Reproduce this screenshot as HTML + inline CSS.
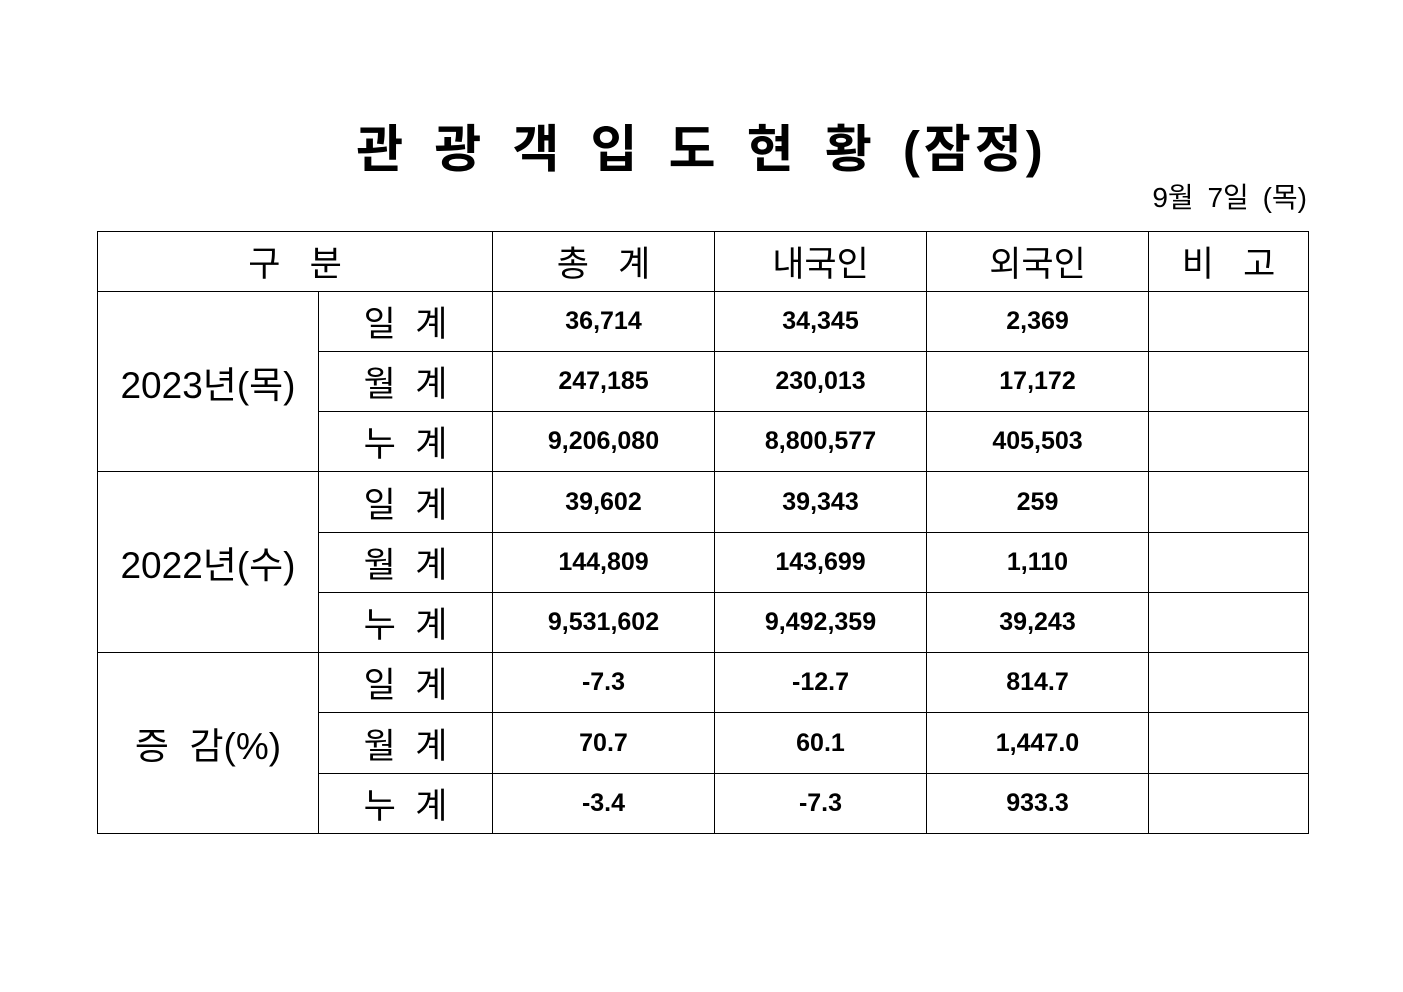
<!DOCTYPE html>
<html><head><meta charset="utf-8"><style>
body{margin:0;width:1403px;height:992px;background:#fff;position:relative;font-family:"Liberation Sans","Malgun Gothic","Noto Sans CJK KR","NanumGothic",sans-serif;color:#000}
.t{position:absolute;left:0;width:1403px;top:108px;text-align:center;font-size:51px;font-weight:bold;letter-spacing:4px;word-spacing:9px}
.d{position:absolute;right:96px;top:176px;font-size:28px;word-spacing:6px}
table{position:absolute;left:97px;top:231px;border-collapse:collapse;table-layout:fixed}
td{border:1px solid #000;text-align:center;padding:0;white-space:nowrap}
.h{font-size:35px}
.l{font-size:37px}
.n{font-size:25px;font-weight:bold}
</style></head><body>
<div class="t">관 광 객 입 도 현 황 (잠정)</div>
<div class="d">9월 7일 (목)</div>
<table>
<colgroup><col style="width:221px"><col style="width:174px"><col style="width:222px"><col style="width:212px"><col style="width:222px"><col style="width:160px"></colgroup>
<tr style="height:60px"><td colspan="2" class="h">구 &nbsp; 분</td><td class="h">총 &nbsp; 계</td><td class="h">내국인</td><td class="h">외국인</td><td class="h">비 &nbsp; 고</td></tr>
<tr style="height:60px"><td rowspan="3" class="l">2023년(목)</td><td class="h">일 &nbsp;계</td><td class="n">36,714</td><td class="n">34,345</td><td class="n">2,369</td><td></td></tr>
<tr style="height:60px"><td class="h">월 &nbsp;계</td><td class="n">247,185</td><td class="n">230,013</td><td class="n">17,172</td><td></td></tr>
<tr style="height:60px"><td class="h">누 &nbsp;계</td><td class="n">9,206,080</td><td class="n">8,800,577</td><td class="n">405,503</td><td></td></tr>
<tr style="height:61px"><td rowspan="3" class="l">2022년(수)</td><td class="h">일 &nbsp;계</td><td class="n">39,602</td><td class="n">39,343</td><td class="n">259</td><td></td></tr>
<tr style="height:60px"><td class="h">월 &nbsp;계</td><td class="n">144,809</td><td class="n">143,699</td><td class="n">1,110</td><td></td></tr>
<tr style="height:60px"><td class="h">누 &nbsp;계</td><td class="n">9,531,602</td><td class="n">9,492,359</td><td class="n">39,243</td><td></td></tr>
<tr style="height:60px"><td rowspan="3" class="l">증 &nbsp;감(%)</td><td class="h">일 &nbsp;계</td><td class="n">-7.3</td><td class="n">-12.7</td><td class="n">814.7</td><td></td></tr>
<tr style="height:61px"><td class="h">월 &nbsp;계</td><td class="n">70.7</td><td class="n">60.1</td><td class="n">1,447.0</td><td></td></tr>
<tr style="height:60px"><td class="h">누 &nbsp;계</td><td class="n">-3.4</td><td class="n">-7.3</td><td class="n">933.3</td><td></td></tr>
</table>
</body></html>
